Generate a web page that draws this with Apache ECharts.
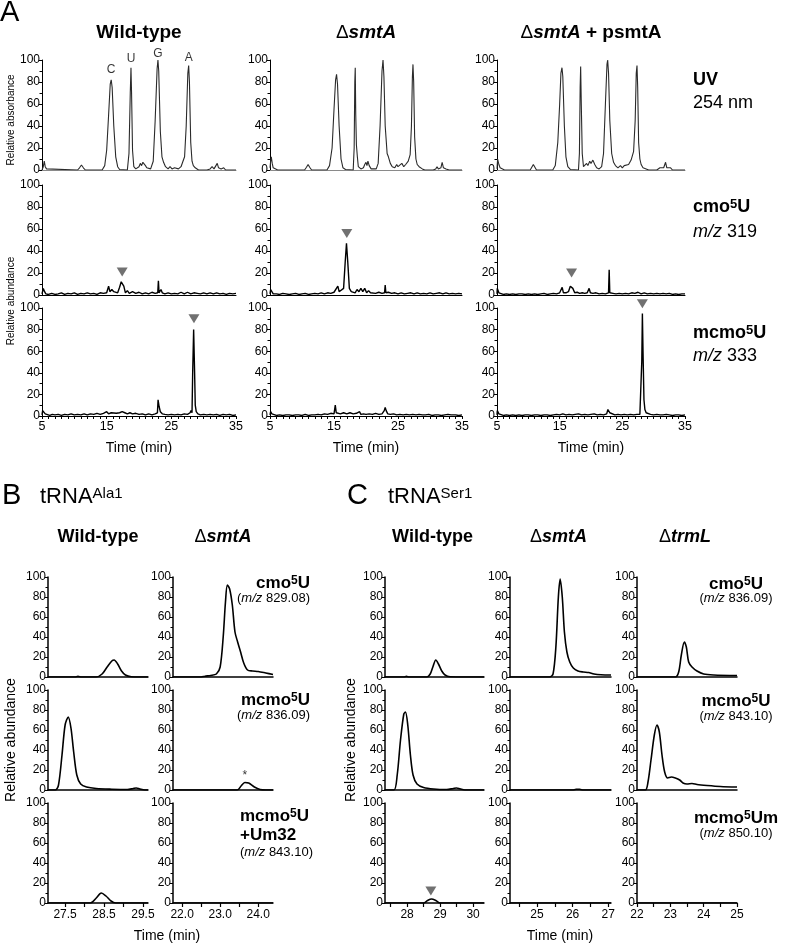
<!DOCTYPE html>
<html>
<head>
<meta charset="utf-8">
<script src="https://cdn.jsdelivr.net/npm/echarts@6/dist/echarts.min.js"></script>
<style>
  html, body { margin: 0; padding: 0; background: #fff; }
  #chart { width: 797px; height: 944px; }
</style>
</head>
<body>
<div id="chart"></div>
<script>
const FONT = '"Liberation Sans", Arial, Helvetica, sans-serif'

// ---------- Panel A : whole-digest LC/MS, time 5-35 min ----------
const aTimeRange = [5, 35]
const aStrains = ['Wild-type', 'ΔsmtA', 'ΔsmtA + psmtA']

// UV 254 nm traces [time, relative absorbance]
const aUvWt = [[5,0],[5.2,3],[5.35,8],[5.5,3],[5.7,1],[6.0,0],[10.5,0],[10.8,2],[11.1,4.5],[11.4,2],[11.7,0],
  [14.3,0],[14.7,4],[15.0,18],[15.3,50],[15.55,78],[15.7,82],[15.85,75],[16.1,40],[16.4,12],[16.7,3],[17.0,0.5],
  [18.2,0],[18.45,15],[18.65,70],[18.76,93],[18.85,70],[19.0,18],[19.2,3],[19.5,1],[20.0,3],[20.2,6],[20.4,4],[20.6,7],[20.8,7],[21.0,4],[21.2,2],
  [21.8,1],[22.2,8],[22.5,45],[22.8,92],[22.93,100],[23.05,90],[23.3,35],[23.55,12],[23.8,7],[24.1,3],[24.5,1],[24.8,3],[25.1,1],[25.5,2],[25.8,3],[26.1,1],[26.5,3],
  [26.8,8],[27.05,12],[27.3,40],[27.55,88],[27.68,95],[27.8,80],[28.0,25],[28.2,8],[28.4,4],[28.7,2],[29.2,0],
  [30.5,0],[31.0,1],[31.3,3],[31.6,1],[31.9,2],[32.1,6],[32.3,2],[32.7,1],[33.1,2],[33.4,0],[35,0]]
const aUvSmt = [[5,2],[5.1,8],[5.2,12],[5.35,6],[5.5,2],[5.8,0.5],[6.2,0],[10.4,0],[10.7,2.5],[10.95,5],[11.2,2.5],[11.5,0],
  [13.9,0],[14.3,4],[14.7,20],[15.0,55],[15.25,82],[15.4,87],[15.55,78],[15.8,40],[16.1,10],[16.4,2],[16.8,0.5],
  [18.0,0],[18.15,20],[18.25,80],[18.32,93],[18.4,50],[18.5,23],[18.65,12],[18.8,3],[19.2,1],[19.6,2],[19.8,5],[20.0,7],[20.15,4],[20.3,8],[20.5,4],[20.8,1],
  [21.6,1],[21.9,6],[22.2,40],[22.5,90],[22.66,100],[22.8,85],[23.0,40],[23.3,15],[23.5,12],[23.8,6],[24.1,3],[24.5,2],[24.8,5],[25.0,3],[25.3,4],[25.6,6],[25.9,3],[26.2,5],
  [26.6,8],[26.9,14],[27.1,40],[27.25,85],[27.34,96],[27.45,80],[27.6,30],[27.8,10],[28.0,5],[28.3,3],[28.8,1],[29.2,0],
  [30.5,0],[30.9,1],[31.1,3],[31.3,1],[31.7,2],[31.9,7],[32.1,2],[32.5,1],[33.0,0],[35,0]]
const aUvPsmt = [[5,1],[5.1,10],[5.3,5],[5.5,2],[5.8,0.5],[6.2,0],[10.3,0],[10.55,2.5],[10.8,5],[11.05,2.5],[11.3,0],
  [13.9,0],[14.3,4],[14.7,25],[15.0,60],[15.2,88],[15.37,93],[15.5,85],[15.75,40],[16.0,12],[16.3,3],[16.7,0.5],
  [18.0,0],[18.15,15],[18.27,75],[18.35,94],[18.45,60],[18.6,15],[18.8,3],[19.1,2],[19.3,6],[19.5,4],[19.8,8],[20.0,6],[20.3,9],[20.6,5],[20.9,2],[21.3,1],
  [21.7,3],[22.0,15],[22.3,60],[22.55,96],[22.66,100],[22.8,88],[23.0,45],[23.3,15],[23.6,7],[23.9,4],[24.3,2],[24.7,4],[25.0,2],[25.3,4],[25.6,3],[26.0,5],
  [26.4,9],[26.8,17],[27.05,45],[27.22,88],[27.34,95],[27.45,75],[27.6,25],[27.8,10],[28.0,5],[28.3,2],[28.8,1],[29.2,0],
  [30.5,0],[30.8,1],[31.0,2],[31.2,1],[31.6,2],[31.9,7],[32.1,2],[32.4,1],[32.7,2],[33.0,0],[35,0]]

// cmo5U m/z 319 traces [time, relative abundance]
const aCmoWt = [[5,1],[5.2,6],[5.4,3],[5.6,1],[6.0,0.5],[6.5,1.5],[7.0,0.5],[7.5,1],[8.0,2],[8.5,0.5],[9.0,1.5],[9.5,1],[10.0,2],[10.5,0.5],[11.0,1.5],[11.5,1],
  [12.0,2],[12.5,1],[13.0,1.5],[13.5,0.5],[14.0,2],[14.5,1.5],[15.0,2],[15.3,8],[15.5,3],[15.8,5],[16.1,3],[16.4,4],[16.7,2],[17.0,7],[17.25,12],[17.45,13],[17.65,8],
  [17.9,2],[18.2,4],[18.5,1.5],[19.0,3],[19.5,1.5],[20.0,2.5],[20.5,1],[21.0,2],[21.5,1],[22.0,2.5],[22.5,1.5],[22.9,2],[23.0,13],[23.1,2],[23.4,5],[23.6,2],
  [24.0,1],[24.5,2],[25.0,1],[25.5,1.5],[26.0,1],[26.5,2.5],[27.0,1],[27.5,2.5],[28.0,1],[28.5,2],[29.0,1.5],[29.5,1],[30.0,2],[30.5,1],[31.0,2],[31.5,1],
  [32.0,2],[32.5,1],[33.0,1.5],[33.5,0.5],[34.0,1.5],[34.5,1],[35,1.5]]
const aCmoSmt = [[5,1],[5.1,5],[5.3,4],[5.5,1],[6.0,1],[6.5,0.5],[7.0,1.5],[7.5,1],[8.0,0.5],[8.5,1],[9.0,1.5],[9.5,0.5],[10.0,1],[10.5,1.5],[11.0,0.5],[11.5,1],
  [12.0,1.5],[12.5,1],[13.0,2],[13.5,1],[14.0,2],[14.5,1.5],[15.0,2.5],[15.3,3],[15.6,8],[15.8,3],[16.1,4],[16.5,6],[16.75,30],[16.95,47],[17.15,30],[17.4,6],
  [17.7,3],[18.0,4],[18.3,2],[18.6,5],[18.9,3],[19.2,6],[19.5,3],[19.8,6],[20.1,2],[20.4,4],[20.7,2],[21.0,3],[21.5,1.5],[22.0,2.5],[22.5,1.5],[22.9,2],[23.0,9],
  [23.1,2],[23.5,2.5],[24.0,1.5],[24.5,2],[25.0,1],[25.5,2],[26.0,1],[26.5,1.5],[27.0,2],[27.5,1],[28.0,2],[28.5,1],[29.0,1.5],[29.5,1],[30.0,2],[30.5,1],
  [31.0,1.5],[31.5,2],[32.0,1],[32.5,2],[33.0,1],[33.5,1.5],[34.0,1],[34.5,1.5],[35,1]]
const aCmoPsmt = [[5,1],[5.05,6],[5.3,2],[5.6,1],[6.0,0.5],[6.5,1],[7.0,0.5],[7.5,1],[8.0,0.5],[8.5,1],[9.0,1],[9.5,0.5],[10.0,1],[10.5,0.5],[11.0,1],[11.5,0.5],
  [12.0,1],[12.5,1.5],[13.0,0.5],[13.5,1],[14.0,1.5],[14.5,1],[15.0,2],[15.4,7],[15.6,2],[16.0,2],[16.4,3],[16.7,8],[16.9,9],[17.1,6],[17.4,2],[17.8,2.5],
  [18.2,1.5],[18.6,2],[19.0,1.5],[19.4,2],[19.7,6],[19.9,2],[20.3,1.5],[20.8,2],[21.3,1],[21.8,1.5],[22.3,1],[22.8,2],[22.9,23],[23.0,2],[23.5,1.5],[24.0,1],
  [24.5,1.5],[25.0,1],[25.5,1.5],[26.0,1],[26.5,2],[27.0,1.5],[27.5,2.5],[28.0,1],[28.5,2],[29.0,1],[29.5,1.5],[30.0,1],[30.5,1.5],[31.0,1],[31.5,1.5],
  [32.0,1],[32.5,1.5],[33.0,0.5],[33.5,1],[34.0,0.5],[34.5,1],[35,1]]

// mcmo5U m/z 333 traces
const aMcmoWt = [[5,1],[5.1,5],[5.3,4],[5.5,2],[5.8,1],[6.2,0.5],[6.6,1.5],[7.0,1],[7.5,1.5],[8.0,0.5],[8.5,1.5],[9.0,1],[9.5,2],[10.0,1],[10.5,1.5],[11.0,1],
  [11.5,2],[12.0,1],[12.5,2],[13.0,1.5],[13.5,2.5],[14.0,1.5],[14.5,2.5],[15.0,4],[15.3,2],[15.7,3],[16.0,1.5],[16.5,2.5],[17.0,3],[17.4,4],[17.8,3],[18.2,2],
  [18.6,3],[19.0,2],[19.5,2.5],[20.0,1.5],[20.5,2],[21.0,1],[21.5,2],[22.0,1],[22.5,2],[22.85,3],[22.95,15],[23.1,9],[23.3,4],[23.6,2],[24.0,1.5],[24.5,1],
  [25.0,1.5],[25.5,1],[26.0,1.5],[26.5,1],[27.0,2],[27.5,1.5],[27.9,3],[28.05,5],[28.2,3],[28.3,40],[28.45,80],[28.6,40],[28.7,10],[28.85,4],[29.1,2],[29.5,1],
  [30.0,1.5],[30.5,1],[31.0,1.5],[31.5,1],[32.0,1.5],[32.5,0.5],[33.0,1.5],[33.5,1],[34.0,1.5],[34.5,0.5],[35,1]]
const aMcmoSmt = [[5,1],[5.1,4],[5.3,2],[5.6,1],[6.0,0.5],[6.5,1],[7.0,0.5],[7.5,1],[8.0,1],[8.5,0.5],[9.0,1],[9.5,1],[10.0,0.5],[10.5,1.5],[11.0,0.5],[11.5,1],
  [12.0,1],[12.5,1.5],[13.0,1],[13.5,2],[14.0,1.5],[14.5,2.5],[15.0,2],[15.2,10],[15.35,3],[15.6,4],[16.0,2],[16.5,3],[17.0,2],[17.5,3],[18.0,2],[18.5,2.5],
  [19.0,4],[19.2,1.5],[19.6,2],[20.0,1.5],[20.5,2],[21.0,1.5],[21.5,2.5],[22.0,1.5],[22.5,2],[22.85,5],[23.0,8],[23.15,5],[23.4,2],[23.8,1.5],[24.3,2],[24.8,1],
  [25.3,1.5],[25.8,1],[26.3,1.5],[26.8,1],[27.3,1.5],[27.8,1],[28.3,1.5],[28.8,1],[29.3,1],[29.8,1.5],[30.3,0.5],[30.8,1],[31.3,1],[31.8,0.5],[32.3,1],
  [32.8,1.5],[33.3,1],[33.6,2.5],[34.0,1],[34.5,0.5],[35,1]]
const aMcmoPsmt = [[5,1],[5.05,5],[5.3,2],[5.6,1],[6.0,0.5],[6.5,1],[7.0,0.5],[7.5,1],[8.0,0.5],[8.5,1],[9.0,0.5],[9.5,1],[10.0,1],[10.5,0.5],[11.0,1],[11.5,1],
  [12.0,0.5],[12.5,1],[13.0,1],[13.5,0.5],[14.0,1],[14.5,1.5],[15.0,1],[15.5,2],[16.0,1],[16.5,1.5],[17.0,1],[17.5,1.5],[18.0,2],[18.5,1],[19.0,1.5],[19.5,1],
  [20.0,1.5],[20.5,2],[21.0,1],[21.5,1.5],[22.0,1],[22.5,2],[22.7,6],[22.85,7],[23.0,3],[23.3,1.5],[23.8,1],[24.3,1.5],[24.8,1],[25.3,1.5],[25.8,1],[26.3,1.5],
  [26.8,1],[27.3,1.5],[27.8,1.5],[28.0,2],[28.1,50],[28.2,95],[28.3,60],[28.45,15],[28.6,6],[28.8,3],[29.1,2],[29.5,1.5],[30.0,1],[30.5,1.5],[31.0,1],[31.5,1],
  [32.0,1.5],[32.5,1],[33.0,0.5],[33.5,1],[34.0,1],[34.5,0.5],[35,1]]

// arrowheads (one list per row, one entry per strain, null = none)
const aCmoArrows = [[17.4, 21], [17.0, 56], [16.9, 20]]
const aMcmoArrows = [[28.5, 90], null, [28.2, 104]]
const aNucleosides = ['C', 'U', 'G', 'A']
const aNucleosidePos = [[15.7, 91], [18.76, 101], [22.93, 106], [27.68, 102]]

// ---------- Panel B : tRNA Ala1 ----------
const bStrains = ['Wild-type', 'ΔsmtA']
const bRanges = [[27.06, 29.63], [21.76, 24.39]]
const bTickLabels = [[27.5, 28.5, 29.5], [22.0, 23.0, 24.0]]
const bTicks = [[27.5, 28, 28.5, 29, 29.5], [22, 22.5, 23, 23.5, 24]]
const bWtCmo = [[27.06,0],[27.75,0],[27.83,0.6],[27.92,0],[28.3,0],[28.45,3],[28.58,10],[28.7,16],[28.76,17],[28.85,13],[28.95,6],[29.05,2],[29.2,0.3],[29.63,0]]
const bSmtCmo = [[21.76,0],[22.5,0],[22.6,0.8],[22.75,1.5],[22.9,3],[23.0,10],[23.08,40],[23.14,75],[23.19,92],[23.25,88],[23.32,72],[23.39,45],[23.46,35],
  [23.53,26],[23.62,14],[23.72,7],[23.85,6],[24.0,5.5],[24.2,4],[24.39,2.5]]
const bWtMcmo = [[27.06,0],[27.25,0],[27.33,5],[27.42,35],[27.5,65],[27.58,73],[27.65,62],[27.72,38],[27.8,15],[27.9,6],[28.05,3],[28.3,1.5],[28.7,0.8],
  [29.1,0.5],[29.25,1.5],[29.33,2],[29.42,1],[29.55,0],[29.63,0]]
const bSmtMcmo = [[21.76,0],[23.45,0],[23.55,4],[23.65,7.5],[23.75,7],[23.9,3],[24.05,0.5],[24.2,0],[24.39,0]]
const bWtMcmoUm = [[27.06,0],[28.15,0],[28.3,5],[28.43,10],[28.55,7],[28.68,2],[28.8,0],[29.63,0]]
const bSmtMcmoUm = [[21.76,0],[24.39,0]]
const bAsterisk = [23.65, 14]

// ---------- Panel C : tRNA Ser1 ----------
const cStrains = ['Wild-type', 'ΔsmtA', 'ΔtrmL']
const cRanges = [[27.33, 30.33], [24.24, 27.08], [22, 25]]
const cTickLabels = [[28, 29, 30], [25, 26, 27], [22, 23, 24, 25]]
const cTicks = [[27.5, 28, 28.5, 29, 29.5, 30], [24.5, 25, 25.5, 26, 26.5, 27], [22, 22.5, 23, 23.5, 24, 24.5, 25]]
const cWtCmo = [[27.33,0],[27.9,0],[27.98,0.6],[28.06,0],[28.6,0],[28.7,3],[28.78,10],[28.87,17],[28.95,13],[29.05,6],[29.15,2],[29.3,0.3],[30.33,0]]
const cSmtCmo = [[24.24,0],[25.35,0],[25.45,3],[25.53,30],[25.6,80],[25.65,98],[25.71,80],[25.77,45],[25.84,25],[25.92,15],[26.02,9],[26.15,6],[26.3,5],
  [26.45,4.5],[26.6,3],[26.8,2.2],[27.08,2]]
const cTrmCmo = [[22,0],[23.15,0],[23.25,5],[23.33,22],[23.42,35],[23.48,30],[23.55,15],[23.65,10],[23.8,6],[24.0,3],[24.3,2],[25,1.5]]
const cWtMcmo = [[27.33,0],[27.6,0],[27.7,15],[27.8,50],[27.9,76],[27.95,78],[28.02,65],[28.1,35],[28.18,15],[28.3,6],[28.5,2.5],[28.8,1],[29.2,0.5],
  [29.4,1.5],[29.5,2],[29.6,1.2],[29.75,0],[30.33,0]]
const cSmtMcmo = [[24.24,0],[26.0,0],[26.1,0.7],[26.2,0.7],[26.3,0],[27.08,0]]
const cTrmMcmo = [[22,0],[22.25,0],[22.33,8],[22.42,30],[22.52,55],[22.6,65],[22.67,58],[22.75,35],[22.83,18],[22.92,12],[23.03,13],[23.15,12],[23.28,10],
  [23.38,7],[23.5,6],[23.65,6.5],[23.8,5.5],[24.1,4.5],[24.5,3.5],[25,3]]
const cWtMcmoUm = [[27.33,0],[28.5,0],[28.62,2.5],[28.74,4],[28.87,2.5],[29.0,0],[30.33,0]]
const cSmtMcmoUm = [[24.24,0],[27.08,0]]
const cTrmMcmoUm = [[22,0],[25,0]]
const cArrow = [28.72, 12]

// ---------- layout helpers ----------
const grids = []
const xAxes = []
const yAxes = []
const series = []
const graphics = []

function addCell (c) {
  const i = grids.length
  grids.push({ left: c.left, top: c.top, width: c.width, height: c.height, containLabel: false, outerBoundsMode: 'none' })
  const xa = {
    type: 'value', gridIndex: i, min: c.xMin, max: c.xMax,
    axisLine: { show: true, onZero: false, lineStyle: { color: c.xColor, width: c.axisW } },
    axisTick: { show: false },
    axisLabel: { show: false },
    splitLine: { show: false }
  }
  if (c.bottom && c.panel === 'A') {
    xa.interval = 10
    xa.axisTick = { show: true, length: 3, lineStyle: { color: '#000' } }
    xa.minorTick = { show: true, splitNumber: 10, length: 3, lineStyle: { color: '#000' } }
    xa.axisLabel = { show: true, fontSize: 12.5, fontFamily: FONT, color: '#000', margin: 4 }
  } else if (c.bottom) {
    xa.axisTick = { show: true, customValues: c.ticks, length: 4, lineStyle: { color: '#000', width: 1.2 } }
    xa.axisLabel = {
      show: true, customValues: c.labels, fontSize: 12, fontFamily: FONT, color: '#000', margin: 6,
      formatter: v => c.decimals ? v.toFixed(1) : String(v)
    }
  }
  xAxes.push(xa)
  yAxes.push({
    type: 'value', gridIndex: i, min: 0, max: 100, interval: 20,
    axisLine: { show: true, lineStyle: { color: '#000', width: c.axisW } },
    axisTick: { show: true, length: 3, lineStyle: { color: '#000' } },
    minorTick: { show: true, splitNumber: 2, length: 2.5, lineStyle: { color: '#000' } },
    axisLabel: { fontSize: 12, fontFamily: FONT, color: '#000', margin: 2 },
    splitLine: { show: false }
  })
  series.push({
    type: 'line', xAxisIndex: i, yAxisIndex: i, data: c.data,
    showSymbol: false, symbol: 'none', smooth: c.smooth || false,
    lineStyle: { color: c.lineColor || '#000', width: c.lineW || 1 },
    z: 3
  })
  return i
}

function addMarks (i, points, opts) {
  series.push({
    type: 'scatter', xAxisIndex: i, yAxisIndex: i, clip: false, z: 5,
    symbol: opts.symbol || 'triangle', symbolRotate: opts.rotate || 0,
    symbolSize: opts.size || [11, 9],
    itemStyle: { color: opts.color || '#4d4d4d' },
    label: opts.label || { show: false },
    data: points
  })
}

function text (x, y, str, size, opt = {}) {
  graphics.push({
    type: 'text', x, y, rotation: opt.rotation || 0, z: 100,
    style: {
      text: str, fill: '#000', rich: opt.rich,
      font: `${opt.italic ? 'italic' : 'normal'} ${opt.bold ? 'bold' : 'normal'} ${size}px ${FONT}`,
      align: opt.align || 'center', verticalAlign: 'middle',
      textAlign: opt.align || 'center', textVerticalAlign: 'middle'
    }
  })
}

function richSet (size, subSize) {
  return {
    b: { fontFamily: FONT, fontSize: size, fontWeight: 'bold' },
    bi: { fontFamily: FONT, fontSize: size, fontWeight: 'bold', fontStyle: 'italic' },
    d: { fontFamily: FONT, fontSize: size, fontWeight: 'normal' },
    n: { fontFamily: FONT, fontSize: subSize || size },
    i: { fontFamily: FONT, fontSize: subSize || size, fontStyle: 'italic' },
    s: { fontFamily: FONT, fontSize: Math.round(size * 0.7), fontWeight: 'bold', verticalAlign: 'top' },
    sn: { fontFamily: FONT, fontSize: Math.round(size * 0.68), verticalAlign: 'top' }
  }
}

function strainTitle (name) {
  if (name.startsWith('Δ')) {
    const rest = name.slice(1)
    const parts = rest.split(' + ')
    return '{d|Δ}{bi|' + parts[0] + '}' + (parts[1] ? '{b| + ' + parts[1] + '}' : '')
  }
  return '{b|' + name + '}'
}

// ---------- Panel A ----------
const aLeft = [42, 270, 497]
const aWidth = [194, 192, 188]
const aTop = [60, 185, 308]
const aHeight = [110, 110, 108]
const aRows = [[aUvWt, aUvSmt, aUvPsmt], [aCmoWt, aCmoSmt, aCmoPsmt], [aMcmoWt, aMcmoSmt, aMcmoPsmt]]
const aArrows = [null, aCmoArrows, aMcmoArrows]

aRows.forEach((row, r) => {
  row.forEach((data, k) => {
    const i = addCell({
      panel: 'A', left: aLeft[k], width: aWidth[k], top: aTop[r], height: aHeight[r],
      xMin: aTimeRange[0], xMax: aTimeRange[1], data, bottom: r === 2,
      xColor: r === 0 ? '#8a8a8a' : '#000', axisW: 1,
      lineColor: r === 0 ? '#2a2a2a' : '#000', lineW: r === 0 ? 1.1 : 1.4
    })
    if (aArrows[r] && aArrows[r][k]) addMarks(i, [aArrows[r][k]], { rotate: 180 })
    if (r === 0 && k === 0) {
      addMarks(i, aNucleosidePos.map((p, j) => ({ value: p, name: aNucleosides[j] })), {
        symbol: 'circle', size: 1, color: 'rgba(0,0,0,0)',
        label: { show: true, position: 'inside', formatter: '{b}', fontSize: 12, fontFamily: FONT, color: '#000' }
      })
    }
  })
})

text(0, 13, 'A', 29, { align: 'left' })
aStrains.forEach((s, k) => {
  text(aLeft[k] + aWidth[k] / 2, 33, strainTitle(s), 19, { rich: richSet(19) })
  text(aLeft[k] + aWidth[k] / 2, 448, 'Time (min)', 14)
})
text(693, 80, 'UV', 18, { align: 'left', bold: true })
text(693, 103, '254 nm', 18, { align: 'left' })
text(693, 207, '{b|cmo}{s|5}{b|U}', 18, { align: 'left', rich: richSet(18) })
text(693, 232, '{i|m/z}{n| 319}', 18, { align: 'left', rich: richSet(18) })
text(693, 333, '{b|mcmo}{s|5}{b|U}', 18, { align: 'left', rich: richSet(18) })
text(693, 356, '{i|m/z}{n| 333}', 18, { align: 'left', rich: richSet(18) })
text(11, 120, 'Relative absorbance', 10, { rotation: Math.PI / 2 })
text(11, 301, 'Relative abundance', 10, { rotation: Math.PI / 2 })

// ---------- Panel B ----------
const bLeft = [48, 173]
const bcTop = [577, 690, 803]
const bcHeight = 100
const bRows = [[bWtCmo, bSmtCmo], [bWtMcmo, bSmtMcmo], [bWtMcmoUm, bSmtMcmoUm]]
bRows.forEach((row, r) => {
  row.forEach((data, k) => {
    const i = addCell({
      panel: 'B', left: bLeft[k], width: 100, top: bcTop[r], height: bcHeight,
      xMin: bRanges[k][0], xMax: bRanges[k][1], data, bottom: r === 2,
      ticks: bTicks[k], labels: bTickLabels[k], decimals: true,
      xColor: '#000', axisW: 1.5, lineW: 1.6, smooth: 0.3
    })
    if (r === 1 && k === 1) {
      addMarks(i, [bAsterisk], {
        symbol: 'circle', size: 1, color: 'rgba(0,0,0,0)',
        label: { show: true, position: 'inside', formatter: '*', fontSize: 12, fontFamily: FONT, color: '#000' }
      })
    }
  })
})
text(2, 496, 'B', 29, { align: 'left' })
text(40, 497, '{t|tRNA}{u|Ala1}', 22, {
  align: 'left',
  rich: { t: { fontFamily: FONT, fontSize: 22 }, u: { fontFamily: FONT, fontSize: 15, verticalAlign: 'top' } }
})
bStrains.forEach((s, k) => text(bLeft[k] + 50, 537, strainTitle(s), 18, { rich: richSet(18) }))
text(310, 583, '{b|cmo}{s|5}{b|U}', 17, { align: 'right', rich: richSet(17) })
text(310, 598, '{n|(}{i|m/z}{n| 829.08)}', 13, { align: 'right', rich: richSet(13) })
text(310, 700, '{b|mcmo}{s|5}{b|U}', 17, { align: 'right', rich: richSet(17) })
text(310, 715, '{n|(}{i|m/z}{n| 836.09)}', 13, { align: 'right', rich: richSet(13) })
text(240, 816, '{b|mcmo}{s|5}{b|U}', 17, { align: 'left', rich: richSet(17) })
text(240, 835, '{b|+Um32}', 17, { align: 'left', rich: richSet(17) })
text(240, 852, '{n|(}{i|m/z}{n| 843.10)}', 13, { align: 'left', rich: richSet(13) })
text(11, 740, 'Relative abundance', 14, { rotation: Math.PI / 2 })
text(167, 936, 'Time (min)', 14)

// ---------- Panel C ----------
const cLeft = [385, 510, 637]
const cWidth = [99, 101, 100]
const cRows = [[cWtCmo, cSmtCmo, cTrmCmo], [cWtMcmo, cSmtMcmo, cTrmMcmo], [cWtMcmoUm, cSmtMcmoUm, cTrmMcmoUm]]
cRows.forEach((row, r) => {
  row.forEach((data, k) => {
    const i = addCell({
      panel: 'C', left: cLeft[k], width: cWidth[k], top: bcTop[r], height: bcHeight,
      xMin: cRanges[k][0], xMax: cRanges[k][1], data, bottom: r === 2,
      ticks: cTicks[k], labels: cTickLabels[k], decimals: false,
      xColor: '#000', axisW: 1.5, lineW: 1.6, smooth: 0.3
    })
    if (r === 2 && k === 0) addMarks(i, [cArrow], { rotate: 180 })
  })
})
text(347, 496, 'C', 29, { align: 'left' })
text(388, 497, '{t|tRNA}{u|Ser1}', 22, {
  align: 'left',
  rich: { t: { fontFamily: FONT, fontSize: 22 }, u: { fontFamily: FONT, fontSize: 15, verticalAlign: 'top' } }
})
cStrains.forEach((s, k) => text(cLeft[k] + cWidth[k] / 2 - 2, 537, strainTitle(s), 18, { rich: richSet(18) }))
text(736, 584, '{b|cmo}{s|5}{b|U}', 17, { rich: richSet(17) })
text(736, 598, '{n|(}{i|m/z}{n| 836.09)}', 13, { rich: richSet(13) })
text(736, 701, '{b|mcmo}{s|5}{b|U}', 17, { rich: richSet(17) })
text(736, 716, '{n|(}{i|m/z}{n| 843.10)}', 13, { rich: richSet(13) })
text(736, 818, '{b|mcmo}{s|5}{b|Um}', 17, { rich: richSet(17) })
text(736, 833, '{n|(}{i|m/z}{n| 850.10)}', 13, { rich: richSet(13) })
text(351, 740, 'Relative abundance', 14, { rotation: Math.PI / 2 })
text(560, 936, 'Time (min)', 14)

const chart = echarts.init(document.getElementById('chart'), null, { renderer: 'canvas' })
chart.setOption({
  animation: false,
  backgroundColor: '#fff',
  grid: grids,
  xAxis: xAxes,
  yAxis: yAxes,
  series,
  graphic: graphics
})
</script>
</body>
</html>
